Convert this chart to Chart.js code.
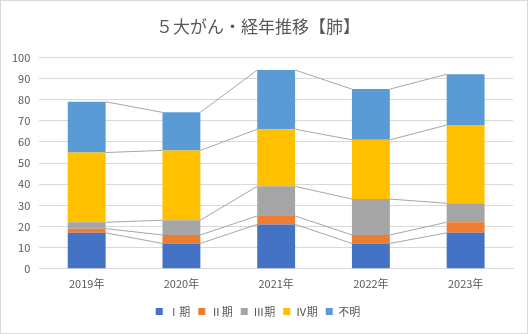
<!DOCTYPE html>
<html lang="ja">
<head>
<meta charset="utf-8">
<script src="https://cdn.jsdelivr.net/npm/chart.js@4/dist/chart.umd.min.js"></script>
<style>
  html, body { margin: 0; padding: 0; background: #fff; }
  #wrap { width: 528px; height: 334px; box-sizing: border-box; border: 1px solid #d9d9d9; }
</style>
</head>
<body>
<div id="wrap"><canvas id="chart" width="526" height="332"></canvas></div>
<script>
// 年別・病期別の件数
const years = ['2019年', '2020年', '2021年', '2022年', '2023年'];
const stage1 = [17, 12, 21, 12, 17];
const stage2 = [2, 4, 4, 4, 5];
const stage3 = [3, 7, 14, 17, 9];
const stage4 = [33, 33, 27, 28, 37];
const unknown = [24, 18, 28, 24, 24];
const yTicks = [0, 10, 20, 30, 40, 50, 60, 70, 80, 90, 100];

const FONT = '"Noto Sans CJK JP", "Noto Sans", sans-serif';
const TEXT = '#595959';
const GRID = '#d9d9d9';

// 積み上げ棒の各段の上端を次の年の棒とつなぐ区分線
const seriesLines = {
  id: 'seriesLines',
  beforeDatasetsDraw(chart) {
    const ctx = chart.ctx;
    ctx.save();
    ctx.strokeStyle = '#a6a6a6';
    ctx.lineWidth = 1;
    chart.data.datasets.forEach((ds, i) => {
      const bars = chart.getDatasetMeta(i).data;
      for (let j = 0; j < bars.length - 1; j++) {
        const a = bars[j], b = bars[j + 1];
        ctx.beginPath();
        ctx.moveTo(a.x + a.width / 2, a.y);
        ctx.lineTo(b.x - b.width / 2, b.y);
        ctx.stroke();
      }
    });
    ctx.restore();
  }
};

const mk = (label, data, color) => ({
  label, data, backgroundColor: color, borderWidth: 0,
  barPercentage: 0.4, categoryPercentage: 1.0
});

new Chart(document.getElementById('chart'), {
  type: 'bar',
  data: {
    labels: years,
    datasets: [
      mk('Ⅰ期', stage1, '#4472c4'),
      mk('Ⅱ期', stage2, '#ed7d31'),
      mk('Ⅲ期', stage3, '#a5a5a5'),
      mk('Ⅳ期', stage4, '#ffc000'),
      mk('不明', unknown, '#5b9bd5')
    ]
  },
  options: {
    responsive: false,
    animation: false,
    layout: { padding: { left: 2, right: 14, top: 0, bottom: 6 } },
    plugins: {
      title: {
        display: true,
        text: '５大がん・経年推移【肺】',
        color: TEXT,
        font: { family: FONT, size: 17, weight: 'normal' },
        padding: { top: 15, bottom: 21 }
      },
      legend: {
        position: 'bottom',
        labels: {
          color: TEXT,
          font: { family: FONT, size: 11 },
          boxWidth: 7,
          boxHeight: 7,
          padding: 8
        }
      },
      tooltip: { enabled: false }
    },
    scales: {
      x: {
        stacked: true,
        grid: { display: false, drawTicks: false },
        border: { color: GRID },
        ticks: { color: TEXT, font: { family: FONT, size: 11 }, padding: 8 }
      },
      y: {
        stacked: true,
        min: 0,
        max: 100,
        afterBuildTicks: axis => { axis.ticks = yTicks.map(v => ({ value: v })); },
        grid: { color: GRID, drawTicks: false },
        border: { display: false },
        ticks: { color: TEXT, font: { family: FONT, size: 11 }, padding: 9 }
      }
    }
  },
  plugins: [seriesLines]
});
</script>
</body>
</html>
